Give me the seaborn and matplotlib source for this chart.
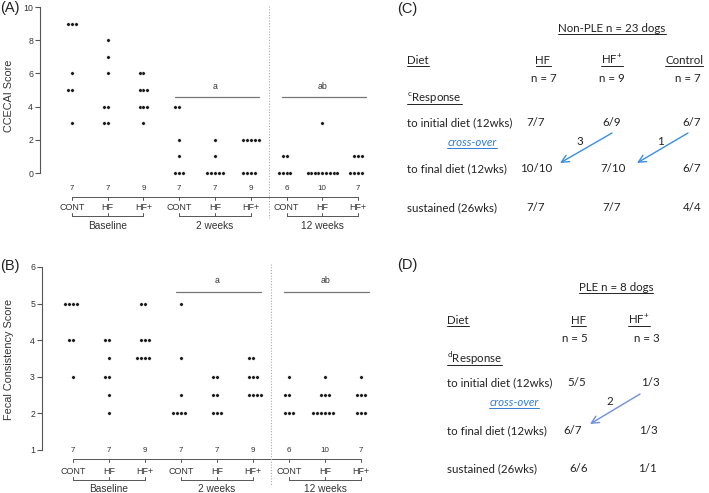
import numpy as np
import pandas as pd
import matplotlib
matplotlib.use("Agg")
import matplotlib.pyplot as plt
import matplotlib.transforms as mtransforms
import seaborn as sns

# ---- data ----
times = ["Baseline", "2 weeks", "12 weeks"]
diets = ["CONT", "HF", "HF+"]
n_dogs = [7, 7, 9, 7, 7, 9, 6, 10, 7]
sig_letters = ["", "a", "ab"]

ccecai = [
    [9, 9, 9, 6, 5, 5, 3],
    [8, 7, 6, 4, 4, 3, 3],
    [6, 6, 5, 5, 5, 4, 4, 4, 3],
    [4, 4, 2, 1, 0, 0, 0],
    [2, 1, 0, 0, 0, 0, 0],
    [2, 2, 2, 2, 2, 0, 0, 0, 0],
    [1, 1, 0, 0, 0, 0],
    [3, 0, 0, 0, 0, 0, 0, 0, 0, 0],
    [1, 1, 1, 0, 0, 0, 0],
]
fecal = [
    [5, 5, 5, 5, 4, 4, 3],
    [4, 4, 3.5, 3, 3, 2.5, 2],
    [5, 5, 4, 4, 4, 3.5, 3.5, 3.5, 3.5],
    [5, 3.5, 2.5, 2, 2, 2, 2],
    [3, 3, 2.5, 2.5, 2, 2, 2],
    [3.5, 3.5, 3, 3, 3, 2.5, 2.5, 2.5, 2.5],
    [3, 2.5, 2.5, 2, 2, 2],
    [3, 2.5, 2.5, 2.5, 2, 2, 2, 2, 2, 2],
    [3, 2.5, 2.5, 2.5, 2, 2, 2],
]

row_names = ["to initial diet (12wks)", "to final diet (12wks)", "sustained (26wks)"]
nonple_title = "Non-PLE n = 23 dogs"
nonple_diets = ["HF", "HF$^\\mathregular{+}$", "Control"]
nonple_n = [7, 9, 7]
nonple_rows = [["7/7", "6/9", "6/7"], ["10/10", "7/10", "6/7"], ["7/7", "7/7", "4/4"]]
nonple_cross = ["3", "1"]
ple_title = "PLE n = 8 dogs"
ple_diets = ["HF", "HF$^\\mathregular{+}$"]
ple_n = [5, 3]
ple_rows = [["5/5", "1/3"], ["6/7", "1/3"], ["6/6", "1/1"]]
ple_cross = ["2"]

keys = [t + "|" + d for t in times for d in diets]

sns.set_theme(style="white")
plt.rcParams["font.family"] = ["Liberation Sans", "DejaVu Sans"]
RFONT = ["Lato", "DejaVu Sans"]
DOT = "#1a1a1a"
AX = "#555555"
TXT = "#333333"
BLUE = "#2f7fd6"

W, H = 709, 493
fig = plt.figure(figsize=(W / 100, H / 100), dpi=100)
tx = fig.add_axes([0, 0, 1, 1])
tx.set_xlim(0, W)
tx.set_ylim(H, 0)
tx.axis("off")


def box(l, t, r, b):
    return [l / W, 1 - b / H, (r - l) / W, (b - t) / H]


def dot_panel(values, bx, xlim, ylim, yticks, ylabel, lab_xy, rows, sig, vline):
    ax = fig.add_axes(box(*bx))
    df = pd.DataFrame({
        "group": [k for k, v in zip(keys, values) for _ in v],
        "score": [s for v in values for s in v],
    })
    sns.swarmplot(data=df, x="group", y="score", order=keys, color=DOT,
                  size=2.45, edgecolor="white", linewidth=0.2, ax=ax, clip_on=False)
    ax.set_xlim(*xlim)
    ax.set_ylim(*ylim)
    ax.set_xticks([])
    ax.set_xlabel("")
    for s in ["top", "right", "bottom"]:
        ax.spines[s].set_visible(False)
    ax.spines["left"].set_bounds(yticks[0], yticks[-1])
    ax.spines["left"].set_color(AX)
    ax.spines["left"].set_linewidth(0.8)
    ax.set_yticks(yticks)
    ax.tick_params(axis="y", direction="out", length=3.5, width=0.8, color=AX,
                   labelsize=6.3, labelcolor=TXT, pad=1.5, left=True)
    ax.set_ylabel(ylabel, fontsize=7.8, color=TXT)
    ax.yaxis.set_label_coords(*lab_xy, transform=tx.transData)

    tr = mtransforms.blended_transform_factory(ax.transData, tx.transData)
    n_y, line_y, cat_y, br_y, grp_y = rows
    xs = np.arange(len(keys))
    for x, n in zip(xs, n_dogs):
        ax.text(x, n_y, str(n), transform=tr, ha="center", va="center",
                fontsize=5.8, color=TXT, clip_on=False)
        ax.plot([x, x], [line_y, line_y + 3], transform=tr, color=AX, lw=0.7, clip_on=False)
        ax.text(x, cat_y, keys[x].split("|")[1], transform=tr, ha="center",
                va="center", fontsize=6.5, color=TXT, clip_on=False)
    ax.plot([xs[0], xs[-1]], [line_y, line_y], transform=tr, color=AX, lw=0.7, clip_on=False)
    for g, t in enumerate(times):
        a, m, b = 3 * g, 3 * g + 1, 3 * g + 2
        ax.plot([a, b], [br_y, br_y], transform=tr, color=AX, lw=0.7, clip_on=False)
        for x in (a, m, b):
            ax.plot([x, x], [br_y, br_y - 3], transform=tr, color=AX, lw=0.7, clip_on=False)
        ax.text(m, grp_y, t, transform=tr, ha="center", va="center",
                fontsize=7.3, color=TXT, clip_on=False)
        if sig_letters[g]:
            ax.plot([m - 1.13, m + 1.22], [sig[0], sig[0]], color="#777777", lw=0.9,
                    clip_on=False)
            ax.text(m, sig[1], sig_letters[g], ha="center", va="center",
                    fontsize=6.3, color=TXT)
    ax.plot([5.5, 5.5], vline, transform=tr, color="#aaaaaa", lw=0.8,
            ls=(0, (1, 1.5)), clip_on=False)
    return ax


axA = dot_panel(ccecai, (40, 3.7, 372, 181.3), (-0.894, 8.39), (-0.5, 10.2),
                [0, 2, 4, 6, 8, 10], "CCECAI Score", (14, 96),
                (189, 197, 208, 216, 226), (4.58, 5.24), (6, 218))
axB = dot_panel(fecal, (42, 263.3, 374, 457.3), (-0.861, 8.36), (0.8, 6.1),
                [1, 2, 3, 4, 5, 6], "Fecal Consistency Score", (14, 359),
                (450, 459, 471, 480, 489), (5.32, 5.62), (264, 485))

for s, (x, y) in zip(["(A)", "(B)", "(C)", "(D)"],
                     [(0, 8), (0, 266), (397, 9), (397, 265)]):
    tx.text(x, y, s, ha="left", va="center", fontsize=10.5, color="#222222")

# ---- text panels ----
RS = 8.3
underlined = []


def put(x, y, s, ha="center", ul=False, color="#222222", **kw):
    t = tx.text(x, y + 4, s, ha=ha, va="baseline", fontsize=RS, family=RFONT,
                color=color, **kw)
    if ul:
        underlined.append((t, y + 4 + 2, color))
    return t


def arrow(p0, p1, color):
    tx.annotate("", xy=p1, xytext=p0,
                arrowprops=dict(arrowstyle="->,head_length=0.45,head_width=0.22",
                                color=color, lw=1, shrinkA=0, shrinkB=0))


def table(title, title_xy, left, col_x, n_x, row_x, ys, diets_, ns, rows_, sup,
          cross_x, cross_nums, num_xy, arrows, acolor):
    y_diet, y_n, y_resp, y_rows, y_cross = ys
    put(*title_xy, title, ul=True)
    put(left, y_diet, "Diet", ha="left", ul=True)
    for x, d in zip(col_x, diets_):
        put(x, y_diet, d, ul=True)
    for x, n in zip(n_x, ns):
        put(x, y_n, f"n = {n}")
    put(left, y_resp, "$^\\mathregular{" + sup + "}$Response", ha="left", ul=True)
    for yr, name, vals, xr in zip(y_rows, row_names, rows_, row_x):
        put(left, yr, name, ha="left")
        for x, v in zip(xr, vals):
            put(x, yr, v)
    put(cross_x, y_cross, "cross-over", ul=True, color=BLUE, style="italic")
    for (x, y), s in zip(num_xy, cross_nums):
        put(x, y, s)
    for p0, p1 in arrows:
        arrow(p0, p1, acolor)


table(nonple_title, (612, 28), 407, [543, 612, 684], [544, 612, 688],
      [[536, 612, 692], [536, 613, 692], [536, 612, 692]],
      (60, 78, 98, [122, 168, 207], 142), nonple_diets, nonple_n, nonple_rows, "c",
      472, nonple_cross, [(580, 141), (660, 141)],
      [((612, 133), (560, 163)), ((688, 133), (637, 163))], "#3a8fdc")
table(ple_title, (616, 287), 447, [578, 639], [575, 647],
      [[577, 650], [573, 648], [579, 647]],
      (320, 338, 359, [382, 430, 468], 402), ple_diets, ple_n, ple_rows, "d",
      514, ple_cross, [(610, 401)],
      [((640, 394), (590, 424))], "#6d8fe0")

fig.canvas.draw()
inv = tx.transData.inverted()
for t, y, c in underlined:
    bb = t.get_window_extent()
    (x0, _), (x1, _) = inv.transform([[bb.x0, bb.y0], [bb.x1, bb.y0]])
    tx.plot([x0, x1], [y, y], color=c, lw=0.7)

fig.savefig("out.png", dpi=100)
